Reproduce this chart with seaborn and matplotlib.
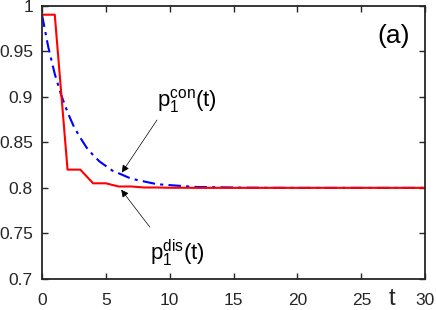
import matplotlib
matplotlib.use("Agg")
import matplotlib.pyplot as plt
import seaborn as sns
import pandas as pd

# ---- data ----
t_dis = list(range(0, 31))
p_dis = [0.99, 0.99, 0.82, 0.82, 0.805, 0.805, 0.8015, 0.8015, 0.8004, 0.8004,
         0.8001, 0.8001, 0.8, 0.8, 0.8, 0.8, 0.8, 0.8, 0.8, 0.8,
         0.8, 0.8, 0.8, 0.8, 0.8, 0.8, 0.8, 0.8, 0.8, 0.8, 0.8]
t_con = [0, 0.5, 1, 1.5, 2, 2.5, 3, 3.5, 4, 4.5, 5, 5.5, 6, 7, 8, 9, 10, 11, 12,
         14, 16, 18, 20, 25, 30]
p_con = [0.990, 0.954, 0.925, 0.902, 0.883, 0.867, 0.855, 0.844, 0.836, 0.829,
         0.824, 0.819, 0.816, 0.810, 0.807, 0.804, 0.803, 0.802, 0.801,
         0.8006, 0.8002, 0.8001, 0.800, 0.800, 0.800]
x_ticks = [0, 5, 10, 15, 20, 25, 30]
y_ticks = [0.7, 0.75, 0.8, 0.85, 0.9, 0.95, 1.0]
y_ticklabels = ["0.7", "0.75", "0.8", "0.85", "0.9", "0.95", "1"]

sns.set_style("ticks")
plt.rcParams["font.family"] = ["Liberation Sans", "DejaVu Sans"]
plt.rcParams["mathtext.fontset"] = "custom"
plt.rcParams["mathtext.rm"] = "Liberation Sans"
plt.rcParams["mathtext.it"] = "Liberation Sans"

dark = "#262626"
fig = plt.figure(figsize=(4.36, 3.10), dpi=100)
ax = fig.add_axes([0.0963, 0.10, 0.879, 0.882])

df_con = pd.DataFrame({"t": t_con, "p": p_con})
df_dis = pd.DataFrame({"t": t_dis, "p": p_dis})
sns.lineplot(data=df_con, x="t", y="p", ax=ax, color="#0000FF", lw=1.5,
             linestyle=(0, (6, 2.5, 1.5, 2.5)))
sns.lineplot(data=df_dis, x="t", y="p", ax=ax, color="#FF0000", lw=1.5)

ax.set_xlim(0, 30)
ax.set_ylim(0.7, 1.0)
ax.set_xticks(x_ticks)
ax.set_xticklabels([str(v) for v in x_ticks])
ax.set_yticks(y_ticks)
ax.set_yticklabels(y_ticklabels)
ax.set_xlabel("")
ax.set_ylabel("")
ax.tick_params(direction="in", top=True, right=True, length=4, width=1.0,
               colors=dark, labelsize=12.5, labelcolor=dark)
ax.tick_params(axis="x", pad=10)
ax.tick_params(axis="y", pad=6.5)
for s in ax.spines.values():
    s.set_visible(True)
    s.set_color(dark)
    s.set_linewidth(1.3)

ax.text(27.4, 0.6785, "t", fontsize=17, color=dark, ha="center", va="center",
        clip_on=False)
ax.text(26.25, 0.9589, "(a)", fontsize=19, color="black", ha="left", va="baseline")

ax.text(8.98, 0.8898, r"$\mathregular{p_1^{con}(t)}$", fontsize=16, ha="left",
        va="baseline", color="black")
ax.text(8.44, 0.7208, r"$\mathregular{p_1^{dis}(t)}$", fontsize=16, ha="left",
        va="baseline", color="black")

ax.annotate("", xy=(6.25, 0.8168), xytext=(9.0, 0.8744),
            arrowprops=dict(arrowstyle="-|>", color="black", lw=0.5,
                            mutation_scale=11, shrinkA=0, shrinkB=0))
ax.annotate("", xy=(6.2, 0.798), xytext=(8.44, 0.757),
            arrowprops=dict(arrowstyle="-|>", color="black", lw=0.5,
                            mutation_scale=11, shrinkA=0, shrinkB=0))

fig.savefig("out.png", dpi=100)
